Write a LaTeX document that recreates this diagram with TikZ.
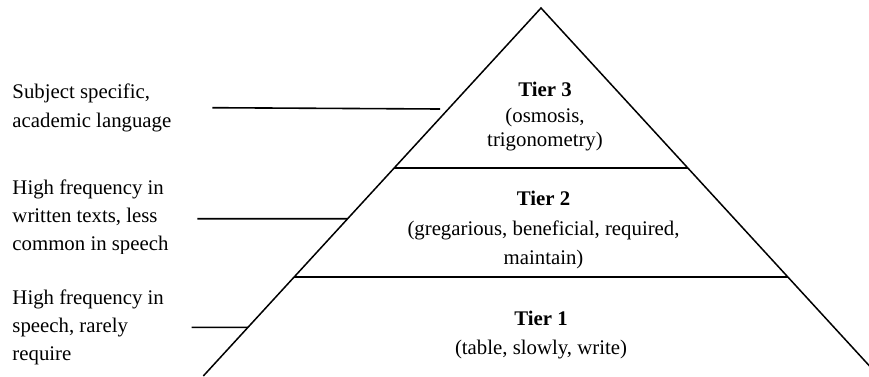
\documentclass[tikz,border=0pt]{standalone}
\usepackage{fontspec}
\setmainfont{Liberation Serif}
\usetikzlibrary{calc}
\begin{document}
\begin{tikzpicture}[x=1pt,y=-1pt,
  lbl/.style={anchor=base west, inner sep=0pt, font=\fontsize{20.8}{25}\selectfont},
  tiertext/.style={anchor=base, inner sep=0pt, font=\fontsize{20.8}{25}\selectfont},
  tiertitle/.style={anchor=base, inner sep=0pt, font=\fontsize{20.8}{25}\selectfont\bfseries},
  edgeline/.style={line width=1.5pt, black, line join=miter},
  divider/.style={line width=2.2pt, black},
  leader/.style={line width=1.6pt, black}]
\useasboundingbox (0,0) rectangle (869,376);
\begin{scope}
\clip (0,0) rectangle (869,376);
% pyramid
\coordinate (apex) at (541,8);
\coordinate (bl) at (203.3,376);
\coordinate (br) at (878.7,376);
\draw[edgeline] (bl) -- (apex) -- (br);
\coordinate (d3l) at ($(apex)!0.4356!(bl)$);
\coordinate (d3r) at ($(apex)!0.4356!(br)$);
\coordinate (d2l) at ($(apex)!0.7302!(bl)$);
\coordinate (d2r) at ($(apex)!0.7302!(br)$);
\draw[divider] (d3l) -- (d3r);
\draw[divider] (d2l) -- (d2r);
% tier texts
\node[tiertitle] (t3a) at (545,96.7) {Tier 3};
\node[tiertext] (t3b) at (545,122.7) {(osmosis,};
\node[tiertext] (t3c) at (545,146.5) {trigonometry)};
\node[tiertitle] (t2a) at (543.5,205.7) {Tier 2};
\node[tiertext] (t2b) at (543.5,235) {(gregarious, beneficial, required,};
\node[tiertext] (t2c) at (543.5,264) {maintain)};
\node[tiertitle] (t1a) at (541,325) {Tier 1};
\node[tiertext] (t1b) at (541,354) {(table, slowly, write)};
% left labels
\node[lbl] (s1a) at (12.3,98.3) {Subject specific,};
\node[lbl] (s1b) at (12.3,127) {academic language};
\begin{scope}
\clip (0,0) rectangle (200,253.3);
\node[lbl] (s2a) at (12.3,194) {High frequency in};
\node[lbl] (s2b) at (12.3,222.7) {written texts, less};
\node[lbl] (s2c) at (12.3,250.7) {common in speech};
\end{scope}
\node[lbl] (s3a) at (12.3,304) {High frequency in};
\node[lbl] (s3b) at (12.3,332) {speech, rarely};
\node[lbl] (s3c) at (12.3,360) {require};
% leader lines
\coordinate (l1a) at (212.3,107.7);
\coordinate (l1b) at (440,109);
\coordinate (l2a) at (197.3,218.7);
\coordinate (l2b) at ($(apex)!0.5726!(bl)$);
\coordinate (l3a) at (191.7,327.3);
\coordinate (l3b) at ($(apex)!0.8677!(bl)$);
\draw[leader] (l1a) -- (l1b);
\draw[leader] (l2a) -- (l2b);
\draw[leader] (l3a) -- (l3b);
\end{scope}
\end{tikzpicture}
\end{document}
